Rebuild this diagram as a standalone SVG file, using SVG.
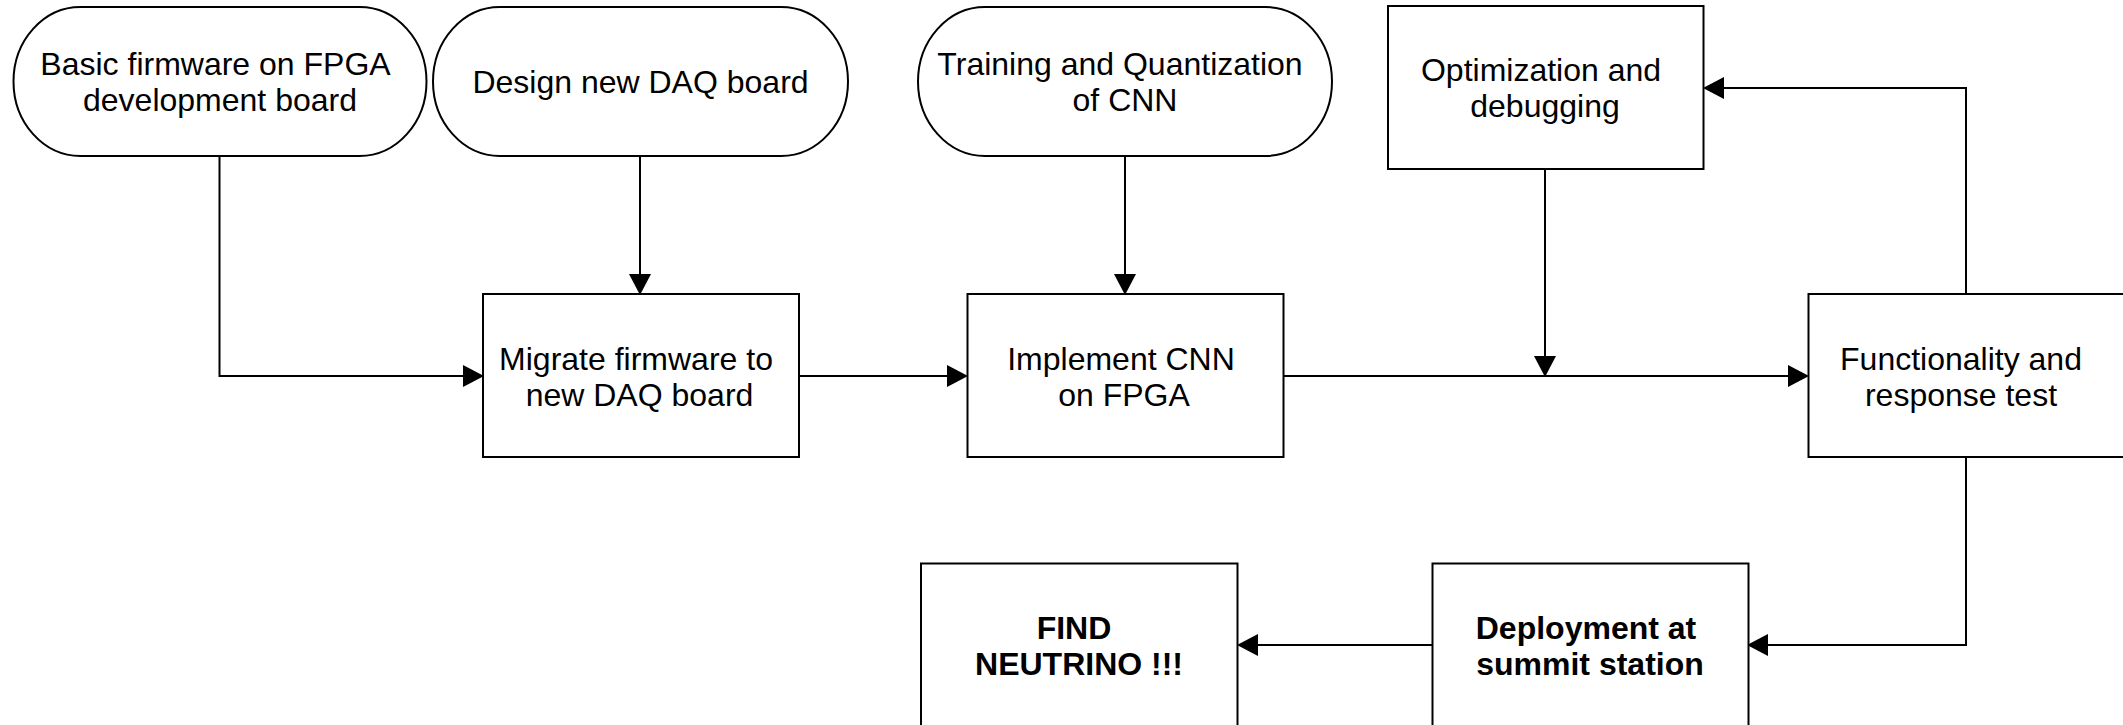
<svg xmlns="http://www.w3.org/2000/svg" width="2123" height="725" viewBox="0 0 2123 725">
<style>
.shape{fill:#ffffff;stroke:#000000;stroke-width:2}
.t{font-family:"Liberation Sans",Arial,Helvetica,sans-serif;font-size:32px;fill:#000000;text-anchor:middle}
.b{font-weight:bold}
.conn{fill:none;stroke:#000000;stroke-width:2;marker-end:url(#arrow)}
</style>
<defs>
<marker id="arrow" markerUnits="userSpaceOnUse" viewBox="0 0 21 22" markerWidth="21" markerHeight="22" refX="0" refY="11" orient="auto">
<path d="M0,0 L21,11 L0,22 Z" fill="#000000"/>
</marker>
</defs>
<rect width="2123" height="725" fill="#ffffff"/>
<g id="connectors">
<path class="conn" d="M219.5,156 V376 H463"/>
<path class="conn" d="M640,156 V274"/>
<path class="conn" d="M1125,156 V274"/>
<path class="conn" d="M799,376 H947"/>
<path class="conn" d="M1283.5,376 H1788"/>
<path class="conn" d="M1545,169 V356"/>
<path class="conn" d="M1966,294 V88 H1724"/>
<path class="conn" d="M1966,457 V645 H1768"/>
<path class="conn" d="M1432.5,645 H1258"/>
</g>
<g id="basic-firmware">
<path class="shape" d="M80.5,7 H359.5 A67,74.5 0 0 1 359.5,156 H80.5 A67,74.5 0 0 1 80.5,7 Z"/>
<text class="t" x="215.5" y="75">Basic firmware on FPGA</text>
<text class="t" x="220" y="111">development board</text>
</g>
<g id="design-daq">
<path class="shape" d="M500,7 H781 A67,74.5 0 0 1 781,156 H500 A67,74.5 0 0 1 500,7 Z"/>
<text class="t" x="640.5" y="93">Design new DAQ board</text>
</g>
<g id="training-cnn">
<path class="shape" d="M985,7 H1265 A67,74.5 0 0 1 1265,156 H985 A67,74.5 0 0 1 985,7 Z"/>
<text class="t" x="1120" y="75">Training and Quantization</text>
<text class="t" x="1125" y="111">of CNN</text>
</g>
<g id="optimization">
<rect class="shape" x="1388" y="6" width="315.5" height="163"/>
<text class="t" x="1541" y="81">Optimization and</text>
<text class="t" x="1545" y="117">debugging</text>
</g>
<g id="migrate">
<rect class="shape" x="483" y="294" width="316" height="163"/>
<text class="t" x="636" y="370">Migrate firmware to</text>
<text class="t" x="639.5" y="406">new DAQ board</text>
</g>
<g id="implement">
<rect class="shape" x="967.5" y="294" width="316" height="163"/>
<text class="t" x="1121" y="370">Implement CNN</text>
<text class="t" x="1124" y="406">on FPGA</text>
</g>
<g id="functionality">
<rect class="shape" x="1808.5" y="294" width="316" height="163"/>
<text class="t" x="1961" y="370">Functionality and</text>
<text class="t" x="1961" y="406">response test</text>
</g>
<g id="deployment">
<rect class="shape" x="1432.5" y="563.5" width="316" height="164"/>
<text class="t b" x="1586" y="639">Deployment at</text>
<text class="t b" x="1590" y="675">summit station</text>
</g>
<g id="find-neutrino">
<rect class="shape" x="921" y="563.5" width="316.5" height="164"/>
<text class="t b" x="1074" y="639">FIND</text>
<text class="t b" x="1079" y="675">NEUTRINO !!!</text>
</g>
</svg>
